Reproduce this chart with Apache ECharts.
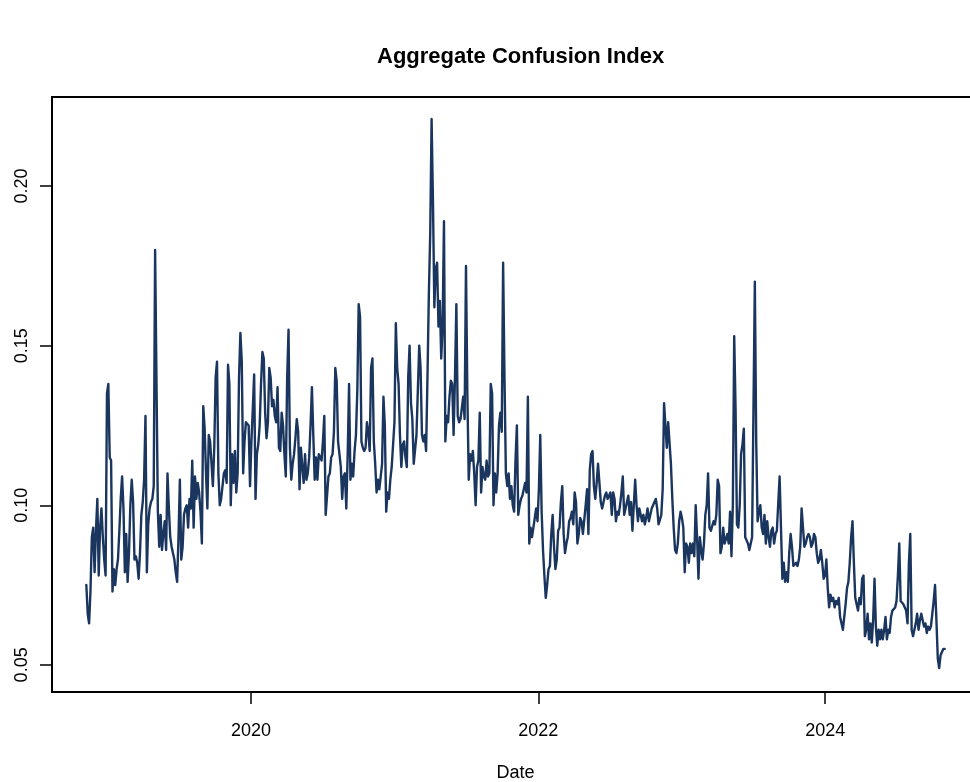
<!DOCTYPE html>
<html lang="en">
<head>
    <meta charset="UTF-8">
    <title>Aggregate Confusion Index</title>
</head>
<body style="margin:0;background:#fff;">
<div id="main" style="width: 970px;height: 782px;"></div>
<script src="https://cdn.jsdelivr.net/npm/echarts@6/dist/echarts.min.js"></script>
<script type="text/javascript">

    // readings every half week, first one on 2018-11-08
    var startDate = '2018-11-08';
    var stepDays = 3.5;

    var v2018 = [0.075, 0.066, 0.063, 0.073, 0.090, 0.093, 0.079, 0.092, 0.102, 0.078,
                 0.093, 0.099, 0.090, 0.083, 0.078, 0.135];
    var v2019 = [0.138, 0.115, 0.114, 0.073, 0.080, 0.075, 0.080, 0.083, 0.092, 0.102,
                 0.109, 0.099, 0.079, 0.091, 0.076, 0.085, 0.100, 0.108, 0.101, 0.083,
                 0.084, 0.082, 0.077, 0.085, 0.097, 0.101, 0.108, 0.128, 0.079, 0.094,
                 0.099, 0.101, 0.102, 0.106, 0.180, 0.180, 0.098, 0.087, 0.097, 0.086,
                 0.091, 0.095, 0.086, 0.110, 0.099, 0.090, 0.087, 0.085, 0.083, 0.079,
                 0.076, 0.090, 0.108, 0.083, 0.087, 0.097, 0.099, 0.100, 0.093, 0.102,
                 0.099, 0.114, 0.093, 0.109, 0.102, 0.107, 0.104, 0.098, 0.088, 0.131,
                 0.124, 0.110, 0.099, 0.122, 0.120, 0.113, 0.106, 0.118, 0.140, 0.145,
                 0.110, 0.100, 0.102, 0.106, 0.110, 0.111, 0.107, 0.144, 0.138, 0.100,
                 0.116, 0.107, 0.117, 0.104, 0.110, 0.140, 0.154, 0.145, 0.110, 0.120,
                 0.126, 0.126, 0.125, 0.106];
    var v2020 = [0.120, 0.130, 0.141, 0.102, 0.116, 0.119, 0.125, 0.138, 0.148, 0.146,
                 0.129, 0.121, 0.126, 0.143, 0.140, 0.131, 0.133, 0.128, 0.126, 0.137,
                 0.118, 0.117, 0.129, 0.125, 0.116, 0.109, 0.140, 0.155, 0.118, 0.108,
                 0.113, 0.116, 0.121, 0.127, 0.123, 0.105, 0.118, 0.112, 0.107, 0.116,
                 0.108, 0.110, 0.115, 0.125, 0.137, 0.122, 0.108, 0.115, 0.108, 0.116,
                 0.115, 0.114, 0.120, 0.128, 0.097, 0.103, 0.109, 0.110, 0.115, 0.116,
                 0.123, 0.143, 0.139, 0.120, 0.120, 0.112, 0.102, 0.109, 0.110, 0.099,
                 0.116, 0.138, 0.108, 0.113, 0.109, 0.117, 0.122, 0.136, 0.163, 0.159,
                 0.120, 0.118, 0.117, 0.118, 0.126, 0.123, 0.117, 0.143, 0.146, 0.120,
                 0.113, 0.104, 0.108, 0.105, 0.105, 0.113, 0.134, 0.125, 0.098, 0.104,
                 0.102, 0.108, 0.112, 0.119, 0.126];
    var v2021 = [0.157, 0.143, 0.138, 0.122, 0.112, 0.119, 0.120, 0.115, 0.112, 0.140,
                 0.150, 0.132, 0.127, 0.113, 0.113, 0.122, 0.136, 0.150, 0.143, 0.122,
                 0.120, 0.122, 0.117, 0.140, 0.166, 0.185, 0.221, 0.195, 0.162, 0.174,
                 0.176, 0.156, 0.164, 0.146, 0.156, 0.189, 0.120, 0.128, 0.126, 0.134,
                 0.139, 0.138, 0.122, 0.140, 0.163, 0.128, 0.126, 0.127, 0.127, 0.134,
                 0.127, 0.175, 0.135, 0.108, 0.116, 0.114, 0.117, 0.110, 0.100, 0.112,
                 0.114, 0.129, 0.104, 0.112, 0.109, 0.108, 0.114, 0.109, 0.110, 0.138,
                 0.135, 0.100, 0.110, 0.104, 0.110, 0.125, 0.129, 0.123, 0.176, 0.140,
                 0.110, 0.106, 0.110, 0.102, 0.106, 0.100, 0.098, 0.114, 0.125, 0.097,
                 0.100, 0.102, 0.103, 0.105, 0.107, 0.104, 0.134, 0.088, 0.093, 0.090,
                 0.093, 0.093, 0.099, 0.095];
    var v2022 = [0.105, 0.122, 0.098, 0.086, 0.078, 0.071, 0.075, 0.080, 0.081, 0.091,
                 0.097, 0.087, 0.080, 0.083, 0.092, 0.093, 0.101, 0.106, 0.091, 0.085,
                 0.088, 0.090, 0.095, 0.096, 0.098, 0.094, 0.104, 0.101, 0.088, 0.091,
                 0.096, 0.095, 0.091, 0.091, 0.100, 0.105, 0.091, 0.111, 0.116, 0.117,
                 0.106, 0.102, 0.107, 0.113, 0.107, 0.101, 0.099, 0.101, 0.103, 0.104,
                 0.102, 0.103, 0.104, 0.097, 0.104, 0.102, 0.095, 0.098, 0.097, 0.100,
                 0.104, 0.109, 0.097, 0.099, 0.101, 0.103, 0.097, 0.101, 0.092, 0.100,
                 0.108, 0.100, 0.095, 0.099, 0.099, 0.095, 0.097, 0.094, 0.096, 0.099,
                 0.095, 0.095, 0.099, 0.099, 0.101, 0.102, 0.099, 0.094, 0.094, 0.097,
                 0.105, 0.132, 0.125, 0.118, 0.126, 0.126, 0.113, 0.102, 0.093, 0.086,
                 0.085, 0.088, 0.095, 0.098];
    var v2023 = [0.096, 0.093, 0.079, 0.088, 0.087, 0.082, 0.088, 0.085, 0.088, 0.084,
                 0.100, 0.090, 0.077, 0.090, 0.086, 0.083, 0.088, 0.097, 0.100, 0.110,
                 0.093, 0.092, 0.092, 0.095, 0.094, 0.097, 0.108, 0.106, 0.085, 0.087,
                 0.093, 0.088, 0.088, 0.091, 0.088, 0.098, 0.084, 0.100, 0.153, 0.130,
                 0.094, 0.093, 0.100, 0.116, 0.119, 0.124, 0.090, 0.089, 0.088, 0.086,
                 0.086, 0.090, 0.130, 0.170, 0.120, 0.095, 0.098, 0.100, 0.093, 0.091,
                 0.097, 0.088, 0.095, 0.090, 0.087, 0.092, 0.093, 0.088, 0.091, 0.092,
                 0.092, 0.109, 0.093, 0.077, 0.082, 0.076, 0.079, 0.076, 0.085, 0.091,
                 0.087, 0.081, 0.081, 0.082, 0.081, 0.083, 0.087, 0.099, 0.093, 0.087,
                 0.088, 0.090, 0.091, 0.090, 0.087, 0.088, 0.091, 0.090, 0.085, 0.082,
                 0.083, 0.086, 0.082, 0.077, 0.078];
    var v2024 = [0.083, 0.074, 0.068, 0.072, 0.070, 0.071, 0.068, 0.070, 0.069, 0.071,
                 0.065, 0.063, 0.061, 0.065, 0.069, 0.074, 0.076, 0.082, 0.090, 0.095,
                 0.082, 0.071, 0.069, 0.067, 0.071, 0.069, 0.077, 0.078, 0.059, 0.061,
                 0.066, 0.058, 0.063, 0.057, 0.064, 0.077, 0.062, 0.056, 0.061, 0.058,
                 0.061, 0.058, 0.061, 0.065, 0.058, 0.061, 0.060, 0.065, 0.067, 0.067,
                 0.068, 0.070, 0.078, 0.088, 0.070, 0.070, 0.069, 0.068, 0.067, 0.063,
                 0.082, 0.091, 0.061, 0.059, 0.061, 0.063, 0.066, 0.061, 0.064, 0.066,
                 0.064, 0.062, 0.063, 0.060, 0.062, 0.061, 0.062, 0.062, 0.070, 0.075,
                 0.064, 0.052, 0.049, 0.053, 0.053, 0.055, 0.055];

    var yTicks = [0.05, 0.10, 0.15, 0.20];
    var xTickYears = [2020, 2022, 2024];

    var values = [].concat(v2018, v2019, v2020, v2021, v2022, v2023, v2024);
    var DAY = 24 * 3600 * 1000;
    var t0 = new Date(startDate + 'T00:00:00Z').getTime();
    var data = values.map(function (v, i) {
        return [t0 + i * stepDays * DAY, v];
    });

    // R style: axis range is the data range plus 4% each side
    var tEnd = data[data.length - 1][0];
    var pad = (tEnd - t0) * 0.04;
    var xTicks = xTickYears.map(function (y) { return Date.UTC(y, 0, 1); });

    var font = 'Liberation Sans';

    var option = {
        backgroundColor: '#fff',
        animation: false,
        title: {
            text: 'Aggregate Confusion Index',
            left: 372,
            top: 41,
            textStyle: {
                fontFamily: font,
                fontWeight: 'bold',
                fontSize: 22,
                color: '#000'
            }
        },
        grid: {
            show: true,
            left: 52,
            top: 97,
            width: 927,
            height: 595,
            outerBoundsMode: 'none',
            containLabel: false,
            borderColor: '#000',
            borderWidth: 2,
            backgroundColor: 'transparent'
        },
        xAxis: {
            type: 'value',
            min: t0 - pad,
            max: tEnd + pad,
            name: 'Date',
            nameLocation: 'middle',
            nameGap: 72,
            nameTextStyle: { fontFamily: font, fontSize: 18, color: '#000' },
            axisLine: { show: false },
            splitLine: { show: false },
            axisTick: {
                show: true,
                customValues: xTicks,
                length: 12,
                lineStyle: { color: '#000', width: 1.5 }
            },
            axisLabel: {
                customValues: xTicks,
                margin: 30,
                fontFamily: font,
                fontSize: 18,
                color: '#000',
                formatter: function (v) { return String(new Date(v).getUTCFullYear()); }
            }
        },
        yAxis: {
            type: 'value',
            min: 0.0415,
            max: 0.2279,
            axisLine: { show: false },
            splitLine: { show: false },
            axisTick: {
                show: true,
                customValues: yTicks,
                length: 12,
                lineStyle: { color: '#000', width: 1.5 }
            },
            axisLabel: {
                customValues: yTicks,
                rotate: 90,
                margin: 21,
                fontFamily: font,
                fontSize: 18,
                color: '#000',
                formatter: function (v) { return v.toFixed(2); }
            }
        },
        series: [{
            type: 'line',
            data: data,
            showSymbol: false,
            lineStyle: { color: '#1a355e', width: 2.4, join: 'round', cap: 'round' },
            itemStyle: { color: '#1a355e' }
        }]
    };

    var myChart = echarts.init(document.getElementById('main'));
    myChart.setOption(option);
</script>
</body>
</html>
